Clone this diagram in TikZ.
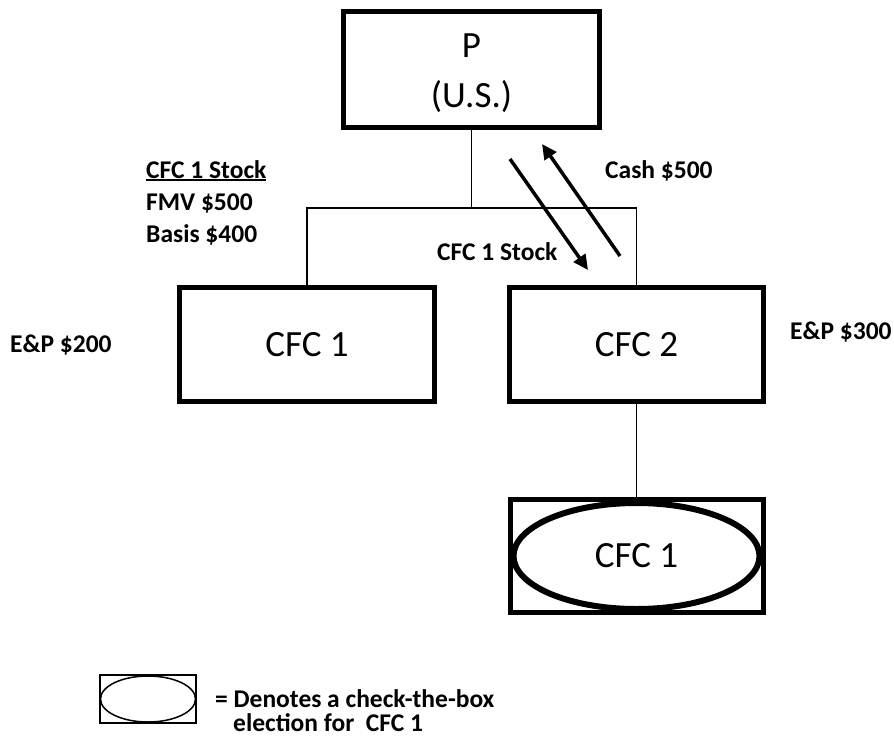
\documentclass[tikz,border=0pt]{standalone}
\usepackage{fontspec}
\setmainfont{Carlito}
\usetikzlibrary{arrows.meta,shapes.geometric}
\newcommand\myuline[1]{\setbox0\hbox{#1}\rlap{\rule[-3pt]{\wd0}{2pt}}\box0}
\begin{document}
\begin{tikzpicture}[x=1pt,y=-1pt,
  entity/.style={draw, line width=5pt, rectangle, inner sep=0pt, align=center,
    font=\fontsize{37}{50}\selectfont},
  ovalbox/.style={draw, line width=6pt, ellipse, inner sep=0pt,
    font=\fontsize{37}{50}\selectfont},
  lbl/.style={inner sep=0pt, font=\bfseries\fontsize{25.5}{32}\selectfont},
  link/.style={line width=1.5pt},
  flow/.style={line width=3.5pt, -{Triangle[length=15pt,width=14pt]}},
  thinbox/.style={draw, line width=1.5pt, rectangle, inner sep=0pt,
    minimum width=96pt, minimum height=48pt},
  thinoval/.style={draw, line width=1.5pt, ellipse, inner sep=0pt,
    minimum width=95pt, minimum height=46pt}
]
\useasboundingbox (0,0) rectangle (894,736);

% entities
\node[entity, minimum width=256pt, minimum height=116pt] (P) at (471.5,69.5) {\rule{0pt}{32pt}P\\(U.S.)};
\node[entity, minimum width=255pt, minimum height=114pt] (C1) at (307,344.5) {CFC 1};
\node[entity, minimum width=254pt, minimum height=114pt] (C2) at (636.5,344.5) {CFC 2};
\node[entity, minimum width=253pt, minimum height=113pt] (C3box) at (636.5,556) {};
\node[ovalbox, minimum width=246pt, minimum height=106pt] (C3) at (636.5,556) {CFC 1};

% ownership lines
\coordinate (busL) at (307,208);
\coordinate (busR) at (636.5,208);
\draw[link] (P.south) -- (P.south |- busL);
\draw[link] (C1.north) -- (busL) -- (busR) -- (C2.north);
\draw[link] (C2.south) -- (C3box.north);

% transfer arrows
\coordinate (stockS) at (510,159);
\coordinate (stockE) at (588,270);
\coordinate (cashS) at (620,256);
\coordinate (cashE) at (542,144);
\draw[flow] (stockS) -- (stockE);
\draw[flow] (cashS) -- (cashE);

% labels
\node[lbl, anchor=base west] (st1) at (146,178) {\myuline{CFC 1 Stock}};
\node[lbl, anchor=base west] (st2) at (146,210) {FMV \$500};
\node[lbl, anchor=base west] (st3) at (146,242) {Basis \$400};
\node[lbl, anchor=base west] (cash) at (605,178) {Cash \$500};
\node[lbl, anchor=base west] (stk) at (437,260) {CFC 1 Stock};
\node[lbl, anchor=base west] (ep1) at (10,352) {E\&P \$200};
\node[lbl, anchor=base west] (ep2) at (790,339) {E\&P \$300};

% legend
\node[thinbox] (legbox) at (148,699) {};
\node[thinoval] (legoval) at (148,699) {};
\node[lbl, anchor=base west] (leg1) at (215,707) {= Denotes a check-the-box};
\node[lbl, anchor=base west] (leg2) at (233,731) {election for\ \ CFC 1};
\end{tikzpicture}
\end{document}
